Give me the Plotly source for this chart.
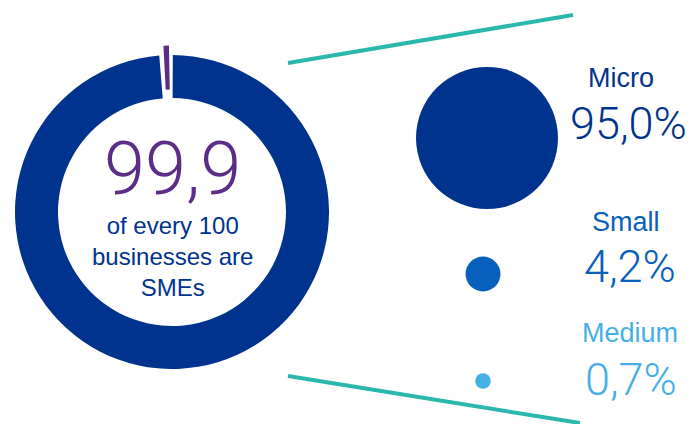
import plotly.graph_objects as go

# ---- data ----
donut_labels = ["SMEs", "Large"]
donut_values = [99.9, 0.1]
size_classes = ["Micro", "Small", "Medium"]
size_shares = [95.0, 4.2, 0.7]
headline = "99,9"
headline_text = "of every 100<br>businesses are<br>SMEs"

# ---- styles / layout ----
W, H = 699, 424
DARK = "#00338d"
PURPLE = "#5c2d86"
TEAL = "#2ab7ad"
class_colors = ["#00338d", "#0860bd", "#45b0e5"]
NUM_FONT = "Roboto, DejaVu Sans Condensed, sans-serif"
TXT_FONT = "Liberation Sans, Arial, sans-serif"

cx, cy, R = 172, 212, 157           # donut centre / outer radius (px)
rmax = 1.07                          # radial range max
hole_r = 0.726
gap_deg = 4.6
min_slice_deg = 1.9
gap_center = -2.0

circle_x = [487, 483, 483]
circle_y = [138, 274, 381]
label_x = [621, 626, 630]
label_y = [78, 222, 333]
value_x = [628, 630, 631]
value_y = [123, 266, 379]

fig = go.Figure()

# donut as barpolar
total = sum(donut_values)
big_w = 360 * donut_values[0] / total - gap_deg
small_w = max(360 * donut_values[1] / total, min_slice_deg)
fig.add_trace(go.Barpolar(
    r=[1.0 - hole_r], base=[hole_r], theta=[gap_center + gap_deg / 2 + big_w / 2],
    width=[big_w], marker=dict(color=DARK, line=dict(width=0)),
    hoverinfo="skip", showlegend=False, name=donut_labels[0]))
fig.add_trace(go.Barpolar(
    r=[1.06 - 0.78], base=[0.78], theta=[gap_center],
    width=[small_w], marker=dict(color=PURPLE, line=dict(width=0)),
    hoverinfo="skip", showlegend=False, name=donut_labels[1]))

half = R * rmax
fig.update_layout(polar=dict(
    domain=dict(x=[(cx - half) / W, (cx + half) / W],
                y=[1 - (cy + half) / H, 1 - (cy - half) / H]),
    bgcolor="rgba(0,0,0,0)",
    radialaxis=dict(visible=False, range=[0, rmax]),
    angularaxis=dict(visible=False, rotation=90, direction="clockwise"),
    bargap=0,
))

# proportional circles
k = 142 / (95.0 ** 0.45)
sizes = [k * v ** 0.45 for v in size_shares]
fig.add_trace(go.Scatter(
    x=circle_x, y=circle_y, mode="markers",
    marker=dict(size=sizes, color=class_colors, line=dict(width=0), opacity=1),
    hoverinfo="skip", showlegend=False))

fig.update_xaxes(range=[0, W], visible=False, domain=[0, 1])
fig.update_yaxes(range=[H, 0], visible=False, domain=[0, 1])

# teal connector lines
for (x0, y0, x1, y1) in [(288, 63, 573, 15), (288, 376, 580, 423)]:
    fig.add_shape(type="line", xref="x", yref="y", x0=x0, y0=y0, x1=x1, y1=y1,
                  line=dict(color=TEAL, width=4))

# labels
for i, name in enumerate(size_classes):
    fig.add_annotation(x=label_x[i], y=label_y[i], xref="x", yref="y",
                       text=name, showarrow=False,
                       font=dict(family=TXT_FONT, size=27, color=class_colors[i]))
    fig.add_annotation(x=value_x[i], y=value_y[i], xref="x", yref="y",
                       text=f"{size_shares[i]:.1f}".replace(".", ",") + "%",
                       showarrow=False,
                       font=dict(family=NUM_FONT, size=45, weight=300,
                                 color=class_colors[i]))

fig.add_annotation(x=cx, y=168, xref="x", yref="y", text=headline, showarrow=False,
                   font=dict(family=NUM_FONT, size=74, weight=300, color=PURPLE))
fig.add_annotation(x=cx, y=256, xref="x", yref="y", text=headline_text, showarrow=False,
                   font=dict(family=TXT_FONT, size=24, color=DARK))

fig.update_layout(width=W, height=H, margin=dict(l=0, r=0, t=0, b=0),
                  paper_bgcolor="white", plot_bgcolor="rgba(0,0,0,0)")

fig.write_html("out.html")
